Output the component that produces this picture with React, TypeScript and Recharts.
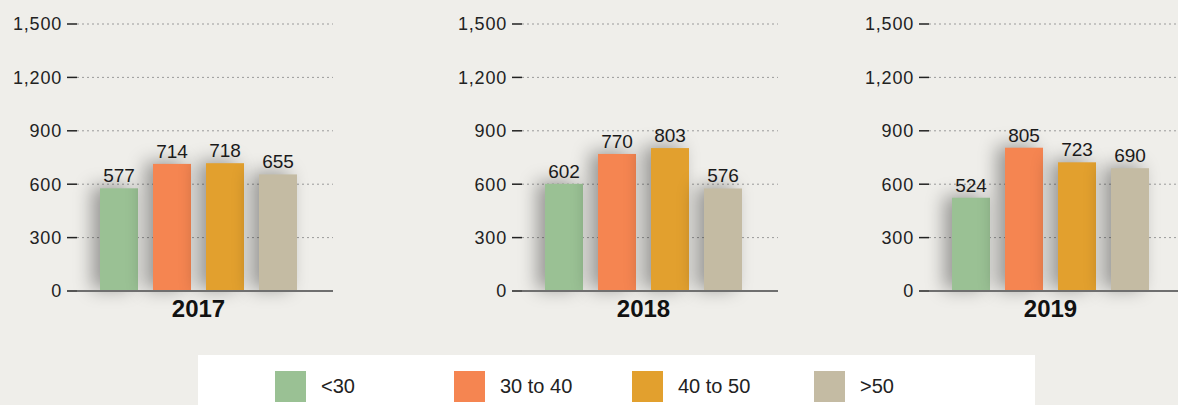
import { BarChart, Bar, XAxis, YAxis, CartesianGrid, LabelList } from 'recharts'

const years = ['2017', '2018', '2019']
const under30 = [577, 602, 524]
const from30to40 = [714, 770, 805]
const from40to50 = [718, 803, 723]
const over50 = [655, 576, 690]
const yTicks = [0, 300, 600, 900, 1200, 1500]

const series = [
  { key: 'under30', name: '<30', color: '#9AC194' },
  { key: 'from30to40', name: '30 to 40', color: '#F58551' },
  { key: 'from40to50', name: '40 to 50', color: '#E2A02E' },
  { key: 'over50', name: '>50', color: '#C4BBA3' },
]

// plot left edge of each panel minus the y axis width
const panelLeft = [0, 445, 852]
const legendX = [275, 454, 632, 814]

const FONT = '"Liberation Sans", Arial, sans-serif'

const ShadowBar = (props: any) => {
  const { x, y, width, height, fill } = props
  if (!height || height <= 0) return null
  return (
    <rect
      x={x}
      y={y}
      width={width}
      height={height}
      fill={fill}
      style={{ filter: 'drop-shadow(-8px -2px 9px rgba(0,0,0,0.36))' }}
    />
  )
}

const YearTick = (props: any) => {
  const { x, y, payload } = props
  return (
    <text x={x} y={y + 24} textAnchor="middle" fontSize={24} fontWeight="bold" fill="#111" fontFamily={FONT}>
      {payload.value}
    </text>
  )
}

function Panel({ i }: { i: number }) {
  const data = [
    {
      year: years[i],
      under30: under30[i],
      from30to40: from30to40[i],
      from40to50: from40to50[i],
      over50: over50[i],
    },
  ]
  return (
    <div style={{ position: 'absolute', left: panelLeft[i], top: 0 }}>
      <BarChart
        width={345}
        height={340}
        data={data}
        margin={{ top: 24, right: 12, bottom: 0, left: 0 }}
        barSize={38}
        barGap={15}
      >
        <CartesianGrid vertical={false} stroke="#9a9a9a" strokeDasharray="2 3" />
        <XAxis
          dataKey="year"
          height={49}
          padding={{ left: 0, right: 13 }}
          axisLine={{ stroke: '#6f6f6f', strokeWidth: 2 }}
          tickLine={false}
          tickSize={0}
          tick={<YearTick />}
        />
        <YAxis
          width={77}
          domain={[0, 1500]}
          ticks={yTicks}
          interval={0}
          axisLine={false}
          tickSize={10}
          tickMargin={5}
          tickLine={{ stroke: '#222', strokeWidth: 1.5 }}
          tickFormatter={(v: number) => v.toLocaleString('en-US')}
          tick={{ fontSize: 18, fill: '#222', fontFamily: FONT, letterSpacing: 0.8 }}
        />
        {series.map((s) => (
          <Bar key={s.key} dataKey={s.key} name={s.name} fill={s.color} shape={<ShadowBar />} isAnimationActive={false}>
            <LabelList dataKey={s.key} position="top" offset={6} style={{ fontSize: 19, fill: '#1a1a1a', fontFamily: FONT }} />
          </Bar>
        ))}
      </BarChart>
    </div>
  )
}

export default function App() {
  return (
    <div
      style={{
        position: 'fixed',
        left: 0,
        top: 0,
        width: 1178,
        height: 405,
        overflow: 'hidden',
        background: '#EFEEEA',
        fontFamily: FONT,
      }}
    >
      {years.map((_, i) => (
        <Panel key={i} i={i} />
      ))}
      <div style={{ position: 'absolute', left: 198, top: 355, width: 837, height: 60, background: '#fff' }} />
      {series.map((s, i) => (
        <div key={s.key} style={{ position: 'absolute', left: legendX[i], top: 371, display: 'flex', alignItems: 'center' }}>
          <div style={{ width: 31, height: 31, background: s.color }} />
          <span style={{ marginLeft: 15, fontSize: 20, color: '#222' }}>{s.name}</span>
        </div>
      ))}
    </div>
  )
}
